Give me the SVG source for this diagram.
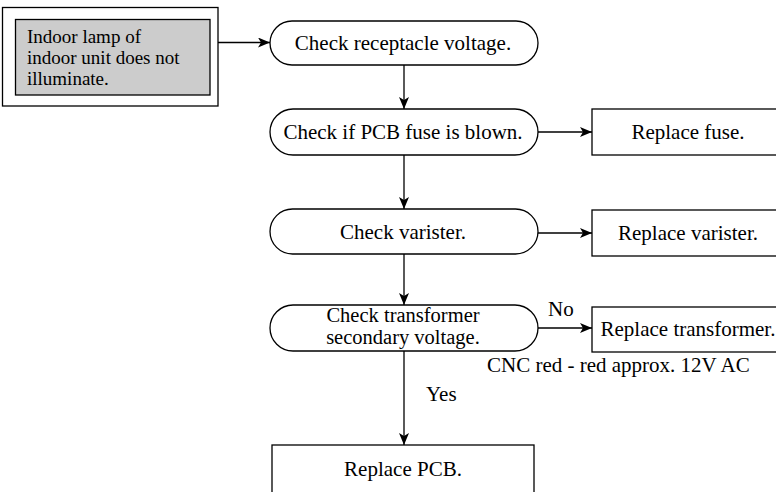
<svg xmlns="http://www.w3.org/2000/svg" width="776" height="492" viewBox="0 0 776 492">
<style>
  .s{fill:#fff;stroke:#000;stroke-width:1.3}
  .t{font-family:"Liberation Serif","Times New Roman",serif;font-size:21px;fill:#000}
  .m{text-anchor:middle}
  .c{fill:none;stroke:#000;stroke-width:1.3}
</style>
<defs>
  <marker id="a" viewBox="0 0 12 10" refX="12" refY="5" markerWidth="12" markerHeight="10" markerUnits="userSpaceOnUse" orient="auto">
    <path d="M0,0 L12,5 L0,10 L3,5 Z" fill="#000"/>
  </marker>
</defs>
<rect width="776" height="492" fill="#fff"/>
<g id="start">
  <rect class="s" x="2.5" y="7.5" width="215.5" height="98.5"/>
  <rect x="15.5" y="19.5" width="194.5" height="75.5" fill="#cccccc" stroke="#000" stroke-width="1.3"/>
  <text class="t" style="font-size:19px" x="27" y="43">Indoor lamp of</text>
  <text class="t" style="font-size:19px" x="27" y="64">indoor unit does not</text>
  <text class="t" style="font-size:19px" x="27" y="85">illuminate.</text>
</g>
<g id="check-receptacle">
  <rect class="s" x="270" y="21" width="268" height="44" rx="22" ry="22"/>
  <text class="t m" x="403" y="50">Check receptacle voltage.</text>
</g>
<g id="check-fuse">
  <rect class="s" x="270" y="109" width="268" height="46" rx="23" ry="23"/>
  <text class="t m" x="403" y="139">Check if PCB fuse is blown.</text>
</g>
<g id="replace-fuse">
  <rect class="s" x="592" y="109" width="200" height="46"/>
  <text class="t m" x="688" y="139">Replace fuse.</text>
</g>
<g id="check-varister">
  <rect class="s" x="270" y="209" width="268" height="45" rx="22.5" ry="22.5"/>
  <text class="t m" x="403" y="239">Check varister.</text>
</g>
<g id="replace-varister">
  <rect class="s" x="592" y="210" width="200" height="46"/>
  <text class="t m" x="688" y="240">Replace varister.</text>
</g>
<g id="check-transformer">
  <rect class="s" x="270" y="305" width="268" height="46" rx="23" ry="23"/>
  <text class="t m" x="403" y="322" style="font-size:20.5px">Check transformer</text>
  <text class="t m" x="403" y="344" style="font-size:20.5px">secondary voltage.</text>
</g>
<g id="replace-transformer">
  <rect class="s" x="592" y="307" width="200" height="45"/>
  <text class="t m" x="688" y="336">Replace transformer.</text>
</g>
<g id="replace-pcb">
  <rect class="s" x="272" y="445" width="262" height="60"/>
  <text class="t m" x="403" y="476">Replace PCB.</text>
</g>
<g id="connectors">
  <line class="c" x1="218" y1="42.5" x2="270" y2="42.5" marker-end="url(#a)"/>
  <line class="c" x1="404" y1="65" x2="404" y2="109" marker-end="url(#a)"/>
  <line class="c" x1="538" y1="132" x2="592" y2="132" marker-end="url(#a)"/>
  <line class="c" x1="404" y1="155" x2="404" y2="209" marker-end="url(#a)"/>
  <line class="c" x1="538" y1="233" x2="592" y2="233" marker-end="url(#a)"/>
  <line class="c" x1="404" y1="254" x2="404" y2="305" marker-end="url(#a)"/>
  <line class="c" x1="538" y1="328" x2="592" y2="328" marker-end="url(#a)"/>
  <line class="c" x1="404" y1="351" x2="404" y2="445" marker-end="url(#a)"/>
  <text class="t" x="548" y="316">No</text>
  <text class="t" x="426" y="401">Yes</text>
  <text class="t" x="487" y="372">CNC red - red approx. 12V AC</text>
</g>
</svg>
